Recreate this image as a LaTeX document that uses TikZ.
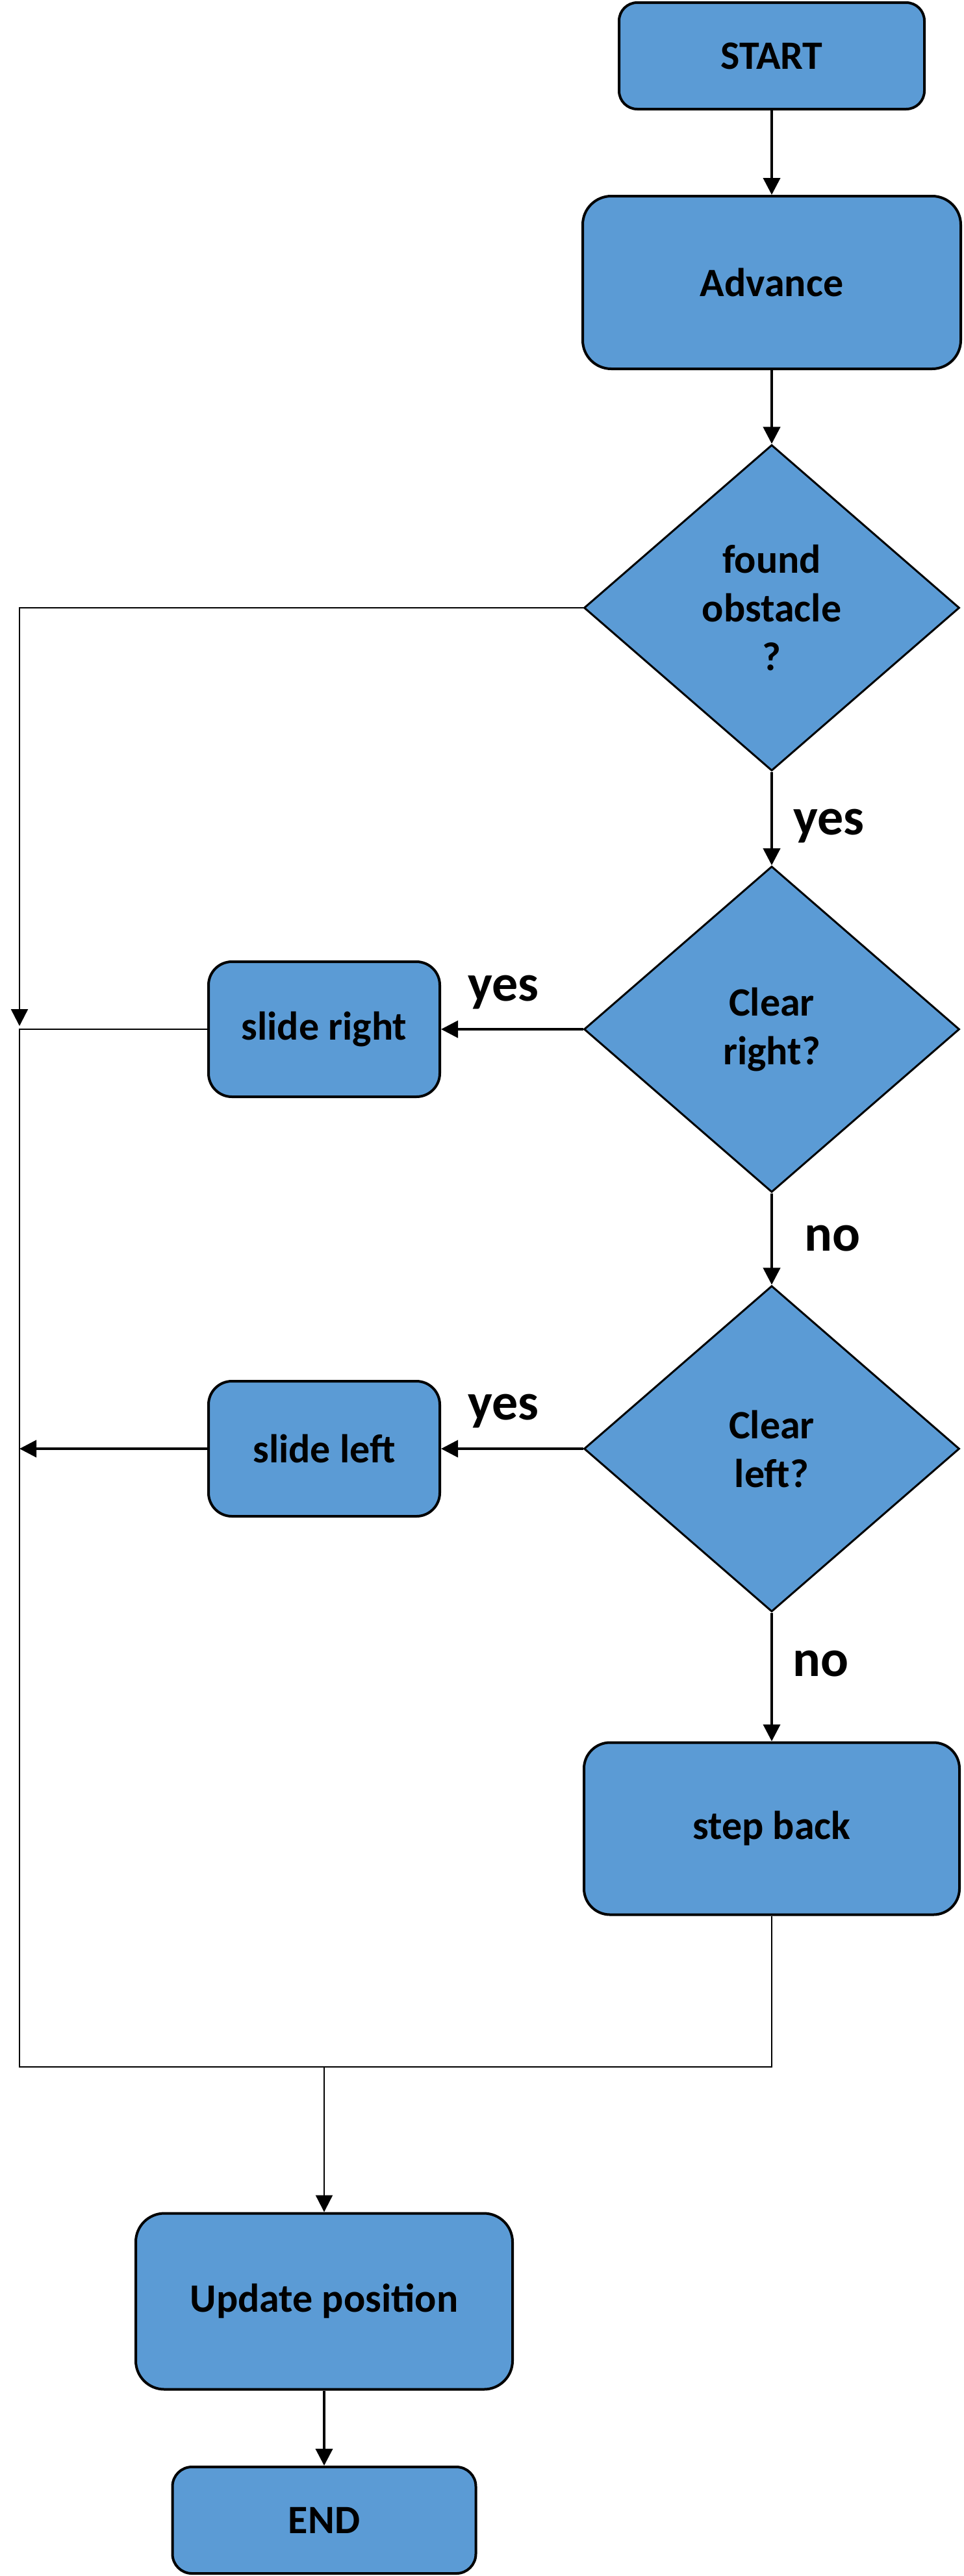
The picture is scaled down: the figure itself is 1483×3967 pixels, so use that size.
\documentclass[tikz,border=0pt]{standalone}
\usepackage{fontspec}
\setmainfont{Carlito}
\usetikzlibrary{shapes.geometric,arrows.meta}
\definecolor{boxblue}{RGB}{91,155,213}
\begin{document}
\begin{tikzpicture}[x=0.5pt,y=-0.5pt,
  boxtext/.style={font=\fontsize{31}{37.5}\selectfont\bfseries,text=black,align=center,inner sep=0pt},
  procbox/.style={boxtext,draw=black,line width=2pt,fill=boxblue,rectangle},
  decbox/.style={boxtext,draw=black,line width=1.5pt,fill=boxblue,shape=diamond,minimum width=289pt,minimum height=251pt},
  lbl/.style={font=\fontsize{40}{48}\selectfont\bfseries,text=black,inner sep=0pt,anchor=base},
  tip/.style={-{Triangle[length=13pt,width=13pt]}},
  mainline/.style={line width=2pt,draw=black},
  loopline/.style={line width=1.25pt,draw=black},
  joinline/.style={line width=1.1pt,draw=black}]
\useasboundingbox (0,0) rectangle (1483,3967);
% nodes
\node[procbox,minimum width=235pt,minimum height=82pt,rounded corners=14pt] (start) at (1188,86) {START};
\node[procbox,minimum width=291pt,minimum height=133pt,rounded corners=22pt] (adv) at (1188,435) {Advance};
\node[decbox] (d1) at (1188,936) {found\\obstacle\\?};
\node[decbox] (d2) at (1188,1585) {Clear\\right?};
\node[decbox] (d3) at (1188,2231) {Clear\\left?};
\node[procbox,minimum width=178pt,minimum height=104pt,rounded corners=18pt] (sr) at (499,1585) {slide right};
\node[procbox,minimum width=178pt,minimum height=104pt,rounded corners=18pt] (sl) at (499,2231) {slide left};
\node[procbox,minimum width=289pt,minimum height=132.5pt,rounded corners=20pt] (sb) at (1188,2816) {step back};
\node[procbox,minimum width=290pt,minimum height=135.5pt,rounded corners=22pt] (up) at (499,3544) {Update position};
\node[procbox,minimum width=233.5pt,minimum height=82pt,rounded corners=15pt] (endn) at (499,3881) {END};
% labels
\node[lbl] (l1) at (1276,1285) {yes};
\node[lbl] (l2) at (775,1541) {yes};
\node[lbl] (l3) at (1281,1926) {no};
\node[lbl] (l4) at (775,2186) {yes};
\node[lbl] (l5) at (1263,2581) {no};
% helper coordinates
\coordinate (c1) at (30,936);
\coordinate (c2) at (30,1580);
\coordinate (c3) at (30,1585);
\coordinate (c4) at (30,3183);
\coordinate (c6) at (30,2231);
\coordinate (c7) at (1188,3183);
\coordinate (c8) at (499,3183);
% connectors
\draw[mainline,tip] (start) -- (adv);
\draw[mainline,tip] (adv) -- (d1);
\draw[mainline,tip] (d1) -- (d2);
\draw[mainline,tip] (d2) -- (d3);
\draw[mainline,tip] (d3) -- (sb);
\draw[mainline,tip] (d2.west) -- (sr.east);
\draw[mainline,tip] (d3.west) -- (sl.east);
\draw[loopline,tip] (d1.west) -- (c1) -- (c2);
\draw[loopline] (sr.west) -- (c3) -- (c4) -- (c8);
\draw[mainline,tip] (sl.west) -- (c6);
\draw[joinline] (sb.south) -- (c7) -- (c8);
\draw[joinline,tip] (c8) -- (up.north);
\draw[mainline,tip] (up) -- (endn);
\end{tikzpicture}
\end{document}
